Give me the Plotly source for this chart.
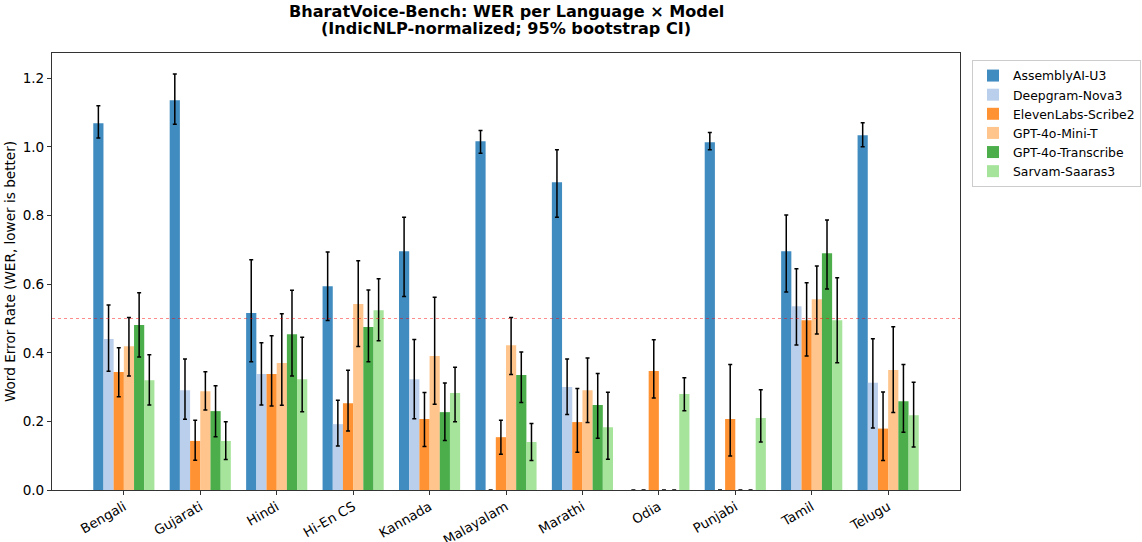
import plotly.graph_objects as go

languages = ["Bengali", "Gujarati", "Hindi", "Hi-En CS", "Kannada", "Malayalam",
             "Marathi", "Odia", "Punjabi", "Tamil", "Telugu"]
models = ["AssemblyAI-U3", "Deepgram-Nova3", "ElevenLabs-Scribe2",
          "GPT-4o-Mini-T", "GPT-4o-Transcribe", "Sarvam-Saaras3"]

# WER values per model (order follows languages)
assembly_wer = [1.069, 1.136, 0.516, 0.594, 0.696, 1.017, 0.897, 0.0, 1.014, 0.696, 1.034]
assembly_lo = [1.026, 1.066, 0.374, 0.494, 0.564, 0.982, 0.795, 0.0, 0.992, 0.577, 1.001]
assembly_hi = [1.120, 1.213, 0.671, 0.694, 0.795, 1.048, 0.992, 0.0, 1.042, 0.802, 1.071]

deepgram_wer = [0.440, 0.291, 0.338, 0.192, 0.323, 0.0, 0.300, 0.0, 0.0, 0.536, 0.313]
deepgram_lo = [0.346, 0.206, 0.248, 0.128, 0.208, 0.0, 0.220, 0.0, 0.0, 0.423, 0.181]
deepgram_hi = [0.539, 0.382, 0.429, 0.262, 0.439, 0.0, 0.382, 0.0, 0.0, 0.645, 0.441]

eleven_wer = [0.344, 0.143, 0.338, 0.253, 0.207, 0.154, 0.198, 0.347, 0.207, 0.495, 0.179]
eleven_lo = [0.272, 0.087, 0.245, 0.172, 0.127, 0.104, 0.110, 0.268, 0.099, 0.391, 0.086]
eleven_hi = [0.415, 0.203, 0.450, 0.349, 0.284, 0.203, 0.296, 0.438, 0.366, 0.604, 0.286]

mini_wer = [0.419, 0.288, 0.370, 0.542, 0.391, 0.422, 0.291, 0.0, 0.0, 0.556, 0.350]
mini_lo = [0.332, 0.233, 0.247, 0.418, 0.250, 0.337, 0.197, 0.0, 0.0, 0.455, 0.226]
mini_hi = [0.503, 0.345, 0.514, 0.668, 0.562, 0.503, 0.385, 0.0, 0.0, 0.653, 0.476]

transcribe_wer = [0.481, 0.230, 0.454, 0.475, 0.227, 0.335, 0.248, 0.0, 0.0, 0.690, 0.259]
transcribe_lo = [0.388, 0.155, 0.332, 0.374, 0.144, 0.255, 0.151, 0.0, 0.0, 0.586, 0.168]
transcribe_hi = [0.575, 0.304, 0.582, 0.583, 0.312, 0.402, 0.340, 0.0, 0.0, 0.787, 0.366]

sarvam_wer = [0.320, 0.143, 0.323, 0.524, 0.283, 0.140, 0.183, 0.280, 0.210, 0.495, 0.218]
sarvam_lo = [0.248, 0.089, 0.228, 0.435, 0.199, 0.086, 0.090, 0.231, 0.140, 0.371, 0.125]
sarvam_hi = [0.394, 0.199, 0.445, 0.616, 0.358, 0.194, 0.285, 0.327, 0.292, 0.619, 0.314]

title_lines = ["BharatVoice-Bench: WER per Language × Model",
               "(IndicNLP-normalized; 95% bootstrap CI)"]

colors = ["rgba(31,119,180,0.85)", "rgba(174,199,232,0.85)", "rgba(255,127,14,0.85)",
          "rgba(255,187,120,0.85)", "rgba(44,160,44,0.85)", "rgba(152,223,138,0.85)"]

series = [
    (assembly_wer, assembly_lo, assembly_hi),
    (deepgram_wer, deepgram_lo, deepgram_hi),
    (eleven_wer, eleven_lo, eleven_hi),
    (mini_wer, mini_lo, mini_hi),
    (transcribe_wer, transcribe_lo, transcribe_hi),
    (sarvam_wer, sarvam_lo, sarvam_hi),
]

FONT = "DejaVu Sans"
FS = 13.6

fig = go.Figure()
for name, color, (vals, lo, hi) in zip(models, colors, series):
    fig.add_trace(go.Bar(
        name=name,
        x=languages,
        y=vals,
        marker=dict(color=color, line=dict(width=0)),
        error_y=dict(
            type="data",
            symmetric=False,
            array=[h - v for h, v in zip(hi, vals)],
            arrayminus=[v - l for v, l in zip(vals, lo)],
            color="black",
            thickness=1.5,
            width=2,
        ),
    ))

fig.add_shape(type="line", xref="paper", yref="y", x0=0, x1=1, y0=0.5, y1=0.5,
              line=dict(color="rgba(255,0,0,0.45)", width=1.2, dash="dot"), layer="above")

for txt, ypos in zip(title_lines, [1.0949, 1.0569]):
    fig.add_annotation(
        text="<b>" + txt + "</b>",
        xref="paper", yref="paper", x=0.5, y=ypos, xanchor="center", yanchor="middle",
        showarrow=False, align="center",
        font=dict(family=FONT, size=16.1, color="black"),
    )

fig.update_layout(
    width=1142, height=542,
    paper_bgcolor="white", plot_bgcolor="white",
    font=dict(family=FONT, size=FS, color="black"),
    barmode="group", bargap=0.2, bargroupgap=0,
    margin=dict(l=52, r=182, t=53, b=52),
    legend=dict(
        xref="container", yref="container",
        x=972 / 1142, y=1 - 60 / 542, xanchor="left", yanchor="top",
        bordercolor="#cccccc", borderwidth=1,
        font=dict(family=FONT, size=12.4),
        tracegroupgap=0,
    ),
    showlegend=True,
)

fig.update_xaxes(
    range=[-0.94, 10.94], automargin=False,
    showline=True, linecolor="#333333", linewidth=1, mirror=True,
    ticks="outside", ticklen=4, tickcolor="#333333",
    tickangle=-30, ticklabelstandoff=-1, showgrid=False, zeroline=False,
    tickfont=dict(family=FONT, size=13.3),
)
fig.update_yaxes(
    range=[0, 1.274], dtick=0.2, tickformat=".1f", automargin=False,
    showline=True, linecolor="#333333", linewidth=1, mirror=True,
    ticks="outside", ticklen=4, tickcolor="#333333",
    showgrid=False, zeroline=False,
    title=dict(text="Word Error Rate (WER, lower is better)", standoff=3,
               font=dict(family=FONT, size=FS)),
    tickfont=dict(family=FONT, size=FS),
)

fig.write_html("out.html", config={"displayModeBar": False},
               post_script="document.body.style.margin='0';")
